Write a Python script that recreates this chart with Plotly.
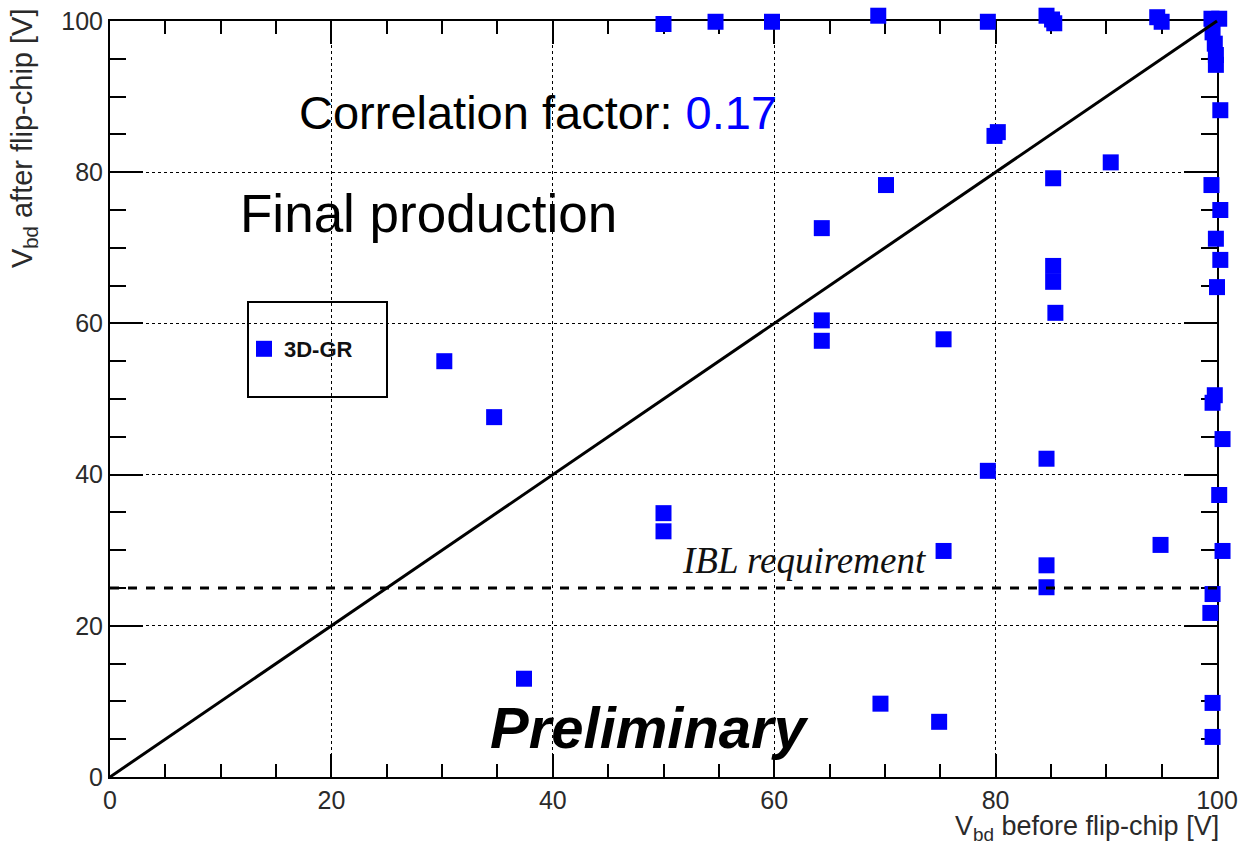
import plotly.graph_objects as go

# ---- data ----
vbd_before = [50.0, 54.7, 59.8, 69.4, 79.3, 84.6, 85.1, 85.3, 94.6, 95.0,
              99.5, 100.2, 99.6, 99.8, 99.9, 99.9,
              100.3, 80.2, 79.9, 90.4, 70.1, 85.2,
              99.5, 100.3, 99.9, 100.3, 100.0,
              64.3, 85.2, 85.2, 85.4, 64.3, 64.3, 75.3,
              30.2, 34.7, 99.8, 99.6, 100.5,
              79.3, 84.6, 100.2, 50.0, 50.0,
              75.3, 94.9, 100.5, 84.6, 84.6,
              99.6, 99.4, 37.4, 69.6, 74.9, 99.6, 99.6]
vbd_after = [99.6, 99.9, 99.9, 100.7, 99.9, 100.7, 100.2, 99.7, 100.5, 99.9,
             100.3, 100.3, 98.5, 97.0, 95.5, 94.2,
             88.2, 85.3, 84.8, 81.3, 78.3, 79.2,
             78.3, 75.0, 71.2, 68.4, 64.8,
             72.6, 67.6, 65.5, 61.4, 60.4, 57.7, 57.9,
             55.0, 47.6, 50.5, 49.5, 44.7,
             40.5, 42.1, 37.3, 34.9, 32.5,
             29.9, 30.7, 29.9, 28.0, 25.1,
             24.2, 21.7, 13.0, 9.7, 7.3, 9.8, 5.3]
diag_x = [0, 100]
diag_y = [0, 100]
ibl_requirement = 25
axis_range = [0, 100]
tick_vals = [0, 20, 40, 60, 80, 100]
correlation = "0.17"
series_name = "3D-GR"

# ---- geometry ----
W, H = 1241, 846
L, R, T, B = 110, 10, 6, 69
pw, ph = W - L - R, H - T - B          # full paper plot area
frame_w, frame_h = 1107, 756           # the framed 0..100 box
xdom_end = frame_w / pw
ydom_end = frame_h / ph
ext_x = [axis_range[0], axis_range[1] / xdom_end]
ext_y = [axis_range[0], axis_range[1] / ydom_end]

def px(xp):
    return (xp - L) / pw

def py(yp):
    return (H - B - yp) / ph

fig = go.Figure()

# all marks on an un-framed overlay subplot with identical scale,
# so that squares lying just past 100 are still drawn
fig.add_trace(go.Scatter(
    x=vbd_before, y=vbd_after, mode="markers", name="<b>" + series_name + "</b>",
    marker=dict(symbol="square", size=16, color="#0000ff", line=dict(width=0)),
    cliponaxis=False, showlegend=True, xaxis="x2", yaxis="y2"))

fig.add_trace(go.Scatter(
    x=diag_x, y=diag_y, mode="lines", line=dict(color="black", width=3),
    showlegend=False, hoverinfo="skip", xaxis="x2", yaxis="y2"))

fig.add_trace(go.Scatter(
    x=axis_range, y=[ibl_requirement, ibl_requirement], mode="lines",
    line=dict(color="black", width=3, dash="dash"),
    showlegend=False, hoverinfo="skip", xaxis="x2", yaxis="y2"))

# invisible trace to keep the framed subplot alive
fig.add_trace(go.Scatter(x=[None], y=[None], mode="markers", showlegend=False,
                         hoverinfo="skip"))

tick_font = dict(family="Liberation Sans, Arial", size=25, color="#2a2a2a")
axis_common = dict(
    range=axis_range, tickvals=tick_vals, showline=True, linecolor="black",
    linewidth=2, mirror="ticks", ticks="inside", tickcolor="black",
    tickwidth=2, showgrid=True, gridcolor="black", griddash="dot",
    gridwidth=1, zeroline=False, tickfont=tick_font, automargin=False,
)

fig.update_layout(
    xaxis=dict(**axis_common, domain=[0, xdom_end], ticklen=23,
               minor=dict(ticks="inside", ticklen=13, dtick=5,
                          tickcolor="black", tickwidth=2, showgrid=False)),
    yaxis=dict(**axis_common, domain=[0, ydom_end], ticklen=33,
               minor=dict(ticks="inside", ticklen=16, dtick=5,
                          tickcolor="black", tickwidth=2, showgrid=False)),
    xaxis2=dict(domain=[0, 1], range=ext_x, visible=False, anchor="y2",
                automargin=False),
    yaxis2=dict(domain=[0, 1], range=ext_y, visible=False, anchor="x2",
                automargin=False),
)

annotations = [
    dict(text="Correlation factor: <span style='color:#0000ff'>" + correlation + "</span>",
         x=px(538), y=py(113), font=dict(family="Liberation Sans, Arial", size=47, color="black")),
    dict(text="Final production", x=px(428), y=py(213),
         font=dict(family="Liberation Sans, Arial", size=53, color="black")),
    dict(text="<b><i>Preliminary</i></b>", x=px(649), y=py(727),
         font=dict(family="Liberation Sans, Arial", size=58, color="black")),
    dict(text="<i>IBL requirement</i>", x=px(804), y=py(560),
         font=dict(family="Liberation Serif, Times New Roman", size=37, color="#111")),
    dict(text="V<sub>bd</sub> before flip-chip [V]", x=px(1221), y=py(828),
         xanchor="right", font=dict(family="Liberation Sans, Arial", size=27, color="#2a2a2a")),
    dict(text="V<sub>bd</sub> after flip-chip [V]", x=px(24), y=py(6),
         yanchor="top", textangle=-90,
         font=dict(family="Liberation Sans, Arial", size=29, color="#2a2a2a")),
]
for a in annotations:
    a.setdefault("xanchor", "center")
    a.setdefault("yanchor", "middle")
    a.update(xref="paper", yref="paper", showarrow=False)

fig.update_layout(
    width=W, height=H,
    margin=dict(l=L, r=R, t=T, b=B, autoexpand=False),
    paper_bgcolor="white", plot_bgcolor="rgba(0,0,0,0)",
    annotations=annotations,
    shapes=[dict(type="rect", xref="paper", yref="paper",
                 x0=px(248), x1=px(387), y0=py(397), y1=py(302),
                 line=dict(color="black", width=2), fillcolor="white", layer="below")],
    legend=dict(x=px(244), y=py(349), xanchor="left", yanchor="middle",
                bgcolor="rgba(0,0,0,0)", borderwidth=0,
                font=dict(family="Liberation Sans, Arial", size=22, color="#111"),
                itemsizing="trace"),
    showlegend=True,
)

fig.write_html("out.html")
